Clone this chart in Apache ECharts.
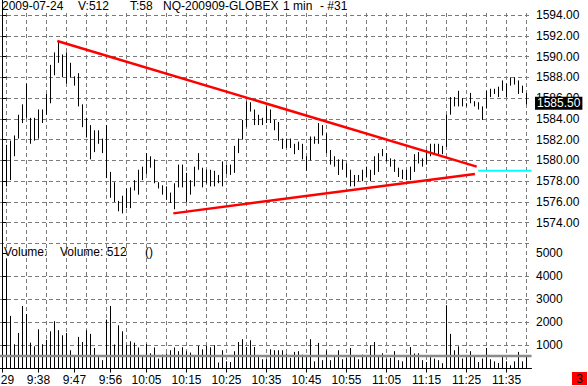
<!DOCTYPE html>
<html><head><meta charset="utf-8">
<script src="https://cdn.jsdelivr.net/npm/echarts@6/dist/echarts.min.js"></script>
<style>html,body{margin:0;padding:0;background:#fff}#c{width:588px;height:386px}</style>
</head><body><div id="c"></div>
<script>
// ---- data ----
const highs = [1580.4,1581.5,1581.9,1582.4,1584.4,1585.4,1587.4,1584.1,1584.1,1584.9,
1584.9,1586.4,1589.2,1590.4,1591.5,1590.2,1590.4,1589.4,1588.1,1588.4,
1585.4,1584.1,1583.4,1582.9,1582.9,1582.1,1583.4,1578.9,1577.9,1576.1,
1576.6,1577.3,1577.4,1578.1,1579.1,1579.4,1580.7,1580.4,1580.1,1577.9,
1577.6,1577.5,1576.9,1577.8,1579.6,1579.6,1578.8,1578.1,1579.4,1580.7,
1579.3,1579.1,1579.1,1579.0,1578.6,1579.9,1579.6,1579.6,1581.4,1582.1,
1583.9,1585.7,1585.6,1584.9,1584.4,1584.1,1585.2,1584.9,1583.9,1583.7,
1582.1,1582.1,1582.1,1581.6,1581.8,1581.6,1580.4,1582.3,1582.3,1583.6,
1583.4,1582.6,1581.0,1580.4,1580.1,1580.1,1579.7,1579.1,1578.6,1578.6,
1579.1,1579.4,1579.1,1580.4,1580.7,1581.1,1580.7,1580.2,1580.1,1579.3,
1579.1,1579.1,1579.4,1580.6,1580.8,1580.2,1581.0,1581.6,1581.6,1581.6,
1581.4,1584.4,1586.1,1586.1,1586.7,1586.0,1585.5,1586.5,1585.7,1585.6,
1585.2,1586.7,1586.9,1586.9,1587.1,1587.7,1587.4,1588.0,1588.0,1587.7,
1587.2,1586.5];
const lows = [1576.9,1577.5,1578.1,1580.4,1582.1,1583.6,1584.1,1581.6,1581.9,1582.1,
1583.6,1584.4,1585.5,1588.2,1589.4,1588.0,1587.4,1588.0,1587.2,1585.2,
1583.2,1582.2,1580.1,1580.8,1581.6,1580.7,1578.3,1576.4,1576.0,1575.1,
1574.9,1575.4,1575.4,1577.1,1576.7,1578.1,1578.7,1579.3,1577.8,1577.3,
1576.7,1576.2,1575.9,1575.3,1577.4,1577.4,1576.0,1576.7,1577.5,1579.1,
1577.4,1577.8,1577.5,1577.5,1577.8,1577.5,1578.7,1578.6,1578.8,1580.7,
1582.0,1583.2,1584.7,1583.4,1583.4,1583.4,1583.6,1583.6,1582.9,1581.9,
1581.1,1581.2,1581.2,1580.6,1581.0,1580.1,1579.0,1580.0,1581.6,1581.6,
1582.4,1580.7,1579.6,1579.4,1578.6,1579.1,1578.4,1577.5,1577.5,1578.0,
1578.0,1578.4,1578.0,1578.6,1578.9,1580.4,1579.9,1579.4,1578.9,1578.4,
1578.2,1578.1,1578.1,1578.9,1579.7,1579.4,1579.6,1580.4,1580.6,1580.6,
1580.6,1581.3,1584.4,1585.2,1585.2,1585.2,1585.2,1585.5,1585.2,1584.9,
1583.9,1585.0,1586.1,1586.4,1586.1,1586.7,1586.1,1587.2,1587.3,1586.4,
1586.5,1585.4];
const volumes = [1610,4760,2280,1050,1540,2710,2360,1120,960,1700,
1050,1240,1610,2050,1660,1440,1540,790,500,1370,
1150,1660,1500,890,500,360,2120,2710,1040,1870,
1610,1010,1180,1120,910,500,1060,660,910,430,
600,650,790,910,750,920,750,690,540,980,
830,980,920,1010,260,790,310,280,750,1150,
1270,930,1220,930,540,400,400,830,790,790,
790,650,460,720,750,600,570,1270,310,1110,
360,780,360,500,790,400,460,890,500,400,
600,500,1010,1150,500,660,430,460,750,360,
310,570,930,650,660,360,280,490,430,360,
230,2740,1500,790,960,430,500,750,500,280,
430,890,400,310,240,500,310,140,310,720,
310,512];
const tickIndex  = [0, 9, 18, 27, 36, 46, 56, 66, 76, 86, 96, 106, 116, 126];
const tickLabels = ['9:29','9:38','9:47','9:56','10:05','10:15','10:25','10:35','10:45','10:55','11:05','11:15','11:25','11:35'];
const upperTrend = [[13.7, 1591.5], [118.55, 1579.4]];
const lowerTrend = [[42.7, 1574.9], [118.1, 1578.7]];
const levelLine  = [[118.95, 1579.0], [132.25, 1579.0]];
const volumeLevel = 540;
const lastPrice = 1585.5;
const headerDate = '2009-07-24';
const headerTicks = 'T:58';
const symbolName = 'NQ-200909-GLOBEX';
const period = '1 min';
const chartNo = '- #31';
const badge = '3';

// ---- chart ----
const FONT = 'Liberation Sans';
const X_MIN = -0.625, X_MAX = 132.25;
const P_MIN = 1572, P_MAX = 1594, P_STEP = 2;
const V_MAX = 5000, V_STEP = 1000;
const GRID_COLOR = '#7a7a7a';
const vGrid = [];
for (let v = 1; v < X_MAX; v += 5) vGrid.push(v);
const lastVol = volumes[volumes.length - 1];
const txt = () => ({ color: '#000', fontFamily: FONT, fontSize: 12 });
const G = (o) => Object.assign({ left: 0, right: 56.5, outerBoundsMode: 'none', containLabel: false }, o);
const crisp = (v) => Math.round(v - 0.5) + 0.5;
const dashStyle = () => ({ color: GRID_COLOR, width: 1, type: [4, 3], opacity: 1 });

const chart = echarts.init(document.getElementById('c'), null, { renderer: 'svg' });
const hx = (x, y, text) => ({ type: 'text', x, y, z: 100, style: { text, fill: '#000', font: '12px "Liberation Sans"', verticalAlign: 'middle', align: 'left' } });

chart.setOption({
  animation: false,
  grid: [
    G({ top: 13, bottom: 17.5 }),
    G({ top: 15, height: 228.5 }),
    G({ bottom: 17.5, height: 115.4 }),
    G({ top: 0, bottom: 17.5 })
  ],
  xAxis: [
    { gridIndex: 0, type: 'value', min: X_MIN, max: X_MAX,
      axisLine: { show: false }, axisLabel: { show: false },
      axisTick: { show: false, customValues: vGrid },
      splitLine: { show: true, lineStyle: dashStyle() } },
    { gridIndex: 1, type: 'value', min: X_MIN, max: X_MAX, show: false },
    { gridIndex: 2, type: 'value', min: X_MIN, max: X_MAX,
      axisLine: { onZero: false, lineStyle: { color: '#000', width: 1 } },
      axisTick: { show: true, customValues: tickIndex, length: 4, lineStyle: { color: '#000' } },
      axisLabel: Object.assign({ customValues: tickIndex, margin: 5, hideOverlap: false,
        formatter: v => tickLabels[tickIndex.indexOf(v)] }, txt()),
      splitLine: { show: false } },
    { gridIndex: 3, type: 'value', min: X_MIN, max: X_MAX, show: false }
  ],
  yAxis: [
    { gridIndex: 0, type: 'value', min: 0, max: 1, show: false },
    { gridIndex: 1, type: 'value', position: 'right', min: P_MIN, max: P_MAX, interval: P_STEP,
      axisLine: { show: false },
      axisTick: { show: true, length: 4, lineStyle: { color: '#000' } },
      axisLabel: Object.assign({ showMinLabel: false, margin: 4.5, formatter: v => v.toFixed(2) }, txt()),
      splitLine: { show: true, lineStyle: dashStyle() } },
    { gridIndex: 2, type: 'value', position: 'right', min: 0, max: V_MAX, interval: V_STEP,
      axisLine: { show: false },
      axisTick: { show: true, length: 4, lineStyle: { color: '#000' } },
      axisLabel: Object.assign({ showMinLabel: false, margin: 4.5, formatter: v => String(v) }, txt()),
      splitLine: { show: true, showMinLine: false, showMaxLine: false, lineStyle: dashStyle() } },
    { gridIndex: 3, type: 'value', position: 'right', min: 0, max: 1,
      axisLine: { show: true, lineStyle: { color: '#000', width: 1 } },
      axisTick: { show: false }, axisLabel: { show: false }, splitLine: { show: false } },
    { gridIndex: 1, type: 'value', position: 'right', min: P_MIN, max: P_MAX, z: 10,
      axisLine: { show: false }, axisTick: { show: false }, splitLine: { show: false },
      axisLabel: { customValues: [lastPrice], margin: 3.5, formatter: v => v.toFixed(2),
        color: '#fff', backgroundColor: '#000', padding: [1, 2, 0, 2],
        fontFamily: FONT, fontSize: 12 } }
  ],
  series: [
    { type: 'custom', xAxisIndex: 1, yAxisIndex: 1, silent: true, z: 3,
      data: highs.map((h, i) => [i, h, lows[i]]),
      encode: { x: 0, y: [1, 2] },
      renderItem: (p, api) => {
        const i = api.value(0);
        const t = api.coord([i, api.value(1)]);
        const b = api.coord([i, api.value(2)]);
        const x = crisp(t[0]);
        return { type: 'line', shape: { x1: x, y1: b[1], x2: x, y2: t[1] },
                 style: { stroke: '#000', lineWidth: 1 } };
      } },
    { type: 'custom', xAxisIndex: 2, yAxisIndex: 2, silent: true, z: 3,
      data: volumes.map((v, i) => [i, v]),
      encode: { x: 0, y: 1 },
      renderItem: (p, api) => {
        const i = api.value(0);
        const t = api.coord([i, api.value(1)]);
        const b = api.coord([i, 0]);
        const x = crisp(t[0]);
        return { type: 'line', shape: { x1: x, y1: b[1], x2: x, y2: t[1] },
                 style: { stroke: '#000', lineWidth: 1 } };
      } },
    { type: 'line', xAxisIndex: 2, yAxisIndex: 2, symbol: 'none', silent: true, z: 4,
      data: [[X_MIN, volumeLevel], [X_MAX, volumeLevel]],
      lineStyle: { color: '#8a8a8a', width: 2.5 } },
    { type: 'line', xAxisIndex: 1, yAxisIndex: 1, symbol: 'none', silent: true, z: 5,
      data: upperTrend, lineStyle: { color: '#ff0000', width: 2.5 } },
    { type: 'line', xAxisIndex: 1, yAxisIndex: 1, symbol: 'none', silent: true, z: 5,
      data: lowerTrend, lineStyle: { color: '#ff0000', width: 2.5 } },
    { type: 'line', xAxisIndex: 1, yAxisIndex: 1, symbol: 'none', silent: true, z: 5,
      data: levelLine, lineStyle: { color: '#00ffff', width: 2 } }
  ],
  graphic: [
    hx(2, 5.5, headerDate),
    hx(78, 5.5, 'V:' + lastVol),
    hx(130, 5.5, headerTicks),
    hx(163, 5.5, symbolName),
    hx(283, 5.5, period),
    hx(320, 5.5, chartNo),
    hx(4, 251.5, 'Volume:'),
    hx(60, 251.5, 'Volume: ' + lastVol),
    hx(145, 251.5, '()'),
    { type: 'rect', x: 572, y: 372, z: 100, shape: { width: 15, height: 13 }, style: { fill: '#ff0000' } },
    { type: 'text', x: 579.5, y: 379, z: 101, style: { text: badge, fill: '#000', font: '12px "Liberation Sans"', align: 'center', verticalAlign: 'middle' } }
  ]
});
</script></body></html>
